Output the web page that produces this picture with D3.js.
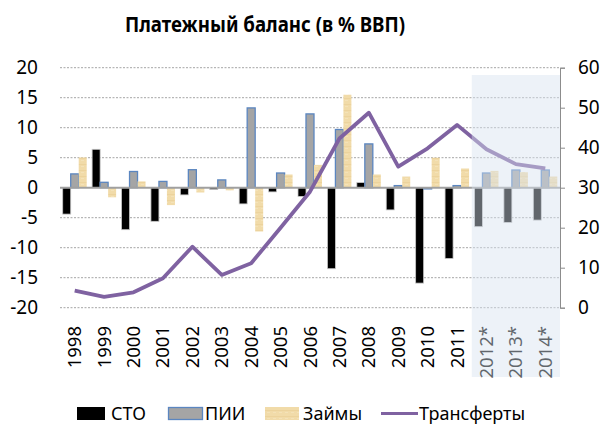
<!DOCTYPE html>
<html>
<head>
<meta charset="utf-8">
<script src="https://cdn.jsdelivr.net/npm/d3@7"></script>
<style>
  body { margin: 0; background: #fff; }
  svg { font-family: "Noto Sans", "Open Sans", sans-serif; }
</style>
</head>
<body>
<div id="chart"></div>
<script>
// categories and series
const years = ["1998", "1999", "2000", "2001", "2002", "2003", "2004", "2005", "2006",
  "2007", "2008", "2009", "2010", "2011", "2012*", "2013*", "2014*"];
const cto = [-4.4, 6.4, -7.0, -5.6, -1.2, -0.3, -2.7, -0.7, -1.45, -13.5, 0.85, -3.7, -15.9, -11.8, -6.5, -5.8, -5.4];
const pii = [2.3, 0.9, 2.7, 1.05, 3.0, 1.3, 13.3, 2.45, 12.3, 9.7, 7.3, 0.35, -0.2, 0.35, 2.45, 2.95, 2.95];
const loans = [5.05, -1.6, 1.05, -2.9, -0.8, -0.45, -7.3, 2.2, 3.8, 15.5, 2.2, 1.85, 5.0, 3.2, 2.8, 2.6, 1.85];
const transfers = [4.25, 2.7, 3.85, 7.35, 15.25, 8.2, 11.1, 20, 29, 42.3, 48.75, 35.25, 39.85, 45.7, 39.6, 35.9, 34.85];
const leftTicks = [-20, -15, -10, -5, 0, 5, 10, 15, 20];
const rightTicks = [0, 10, 20, 30, 40, 50, 60];
const forecastYears = ["2012*", "2013*", "2014*"];

const W = 604, H = 426;
const svg = d3.select("#chart").append("svg")
  .attr("width", W).attr("height", H);

// soft tan texture for the loans bars
const defs = svg.append("defs");
const pat = defs.append("pattern")
  .attr("id", "tan").attr("patternUnits", "userSpaceOnUse")
  .attr("width", 6).attr("height", 6);
pat.append("rect").attr("width", 6).attr("height", 6).attr("fill", "#f1dba9");
pat.append("rect").attr("y", 2).attr("width", 6).attr("height", 1).attr("fill", "#ecd39d");
pat.append("rect").attr("x", 3).attr("y", 4).attr("width", 3).attr("height", 1).attr("fill", "#f4e2b8");

const x = d3.scaleBand().domain(years).range([60, 560]);
const yL = d3.scaleLinear().domain([-20, 20]).range([307.7, 67.7]);
const yR = d3.scaleLinear().domain([0, 60]).range([307.7, 67.7]);

// title
svg.append("text")
  .attr("x", 265).attr("y", 32)
  .attr("text-anchor", "middle")
  .attr("textLength", 280).attr("lengthAdjust", "spacingAndGlyphs")
  .style("font-size", "21px").style("font-weight", "bold")
  .text("Платежный баланс (в % ВВП)");

// dotted gridlines
svg.append("g").selectAll("line")
  .data(leftTicks.filter(d => d !== 0))
  .enter().append("line")
  .attr("x1", 60).attr("x2", 560)
  .attr("y1", d => yL(d)).attr("y2", d => yL(d))
  .attr("stroke", "#a6a6a6").attr("stroke-width", 1)
  .attr("stroke-dasharray", "2,1.5");

// left axis labels (plain hyphen for negatives)
const axL = svg.append("g")
  .attr("transform", "translate(60,0)")
  .call(d3.axisLeft(yL).tickValues(leftTicks).tickFormat(d => String(d)).tickSize(0).tickPadding(22));
axL.select(".domain").remove();
axL.selectAll("text").style("font-size", "19px").attr("fill", "#000")
  .style("font-family", "\"Noto Sans\", sans-serif");

// right axis
const axR = svg.append("g")
  .attr("transform", "translate(560,0)")
  .call(d3.axisRight(yR).tickValues(rightTicks).tickSize(5).tickPadding(13));
axR.select(".domain").attr("stroke", "#8c8c8c");
axR.selectAll(".tick line").attr("stroke", "#8c8c8c");
axR.selectAll("text").style("font-size", "19px").attr("fill", "#000")
  .style("font-family", "\"Noto Sans\", sans-serif");

// bars
const bw = x.bandwidth() * 0.272;
const off = (x.bandwidth() - 3 * bw) / 2;
const series = [
  { name: "СТО", vals: cto, fill: "#000", stroke: "#c8c8c8", sw: 0.8 },
  { name: "ПИИ", vals: pii, fill: "#a5a5a5", stroke: "#5b86c0", sw: 1.3 },
  { name: "Займы", vals: loans, fill: "url(#tan)", stroke: "none", sw: 0 }
];
series.forEach((s, i) => {
  svg.append("g").selectAll("rect")
    .data(s.vals)
    .enter().append("rect")
    .attr("x", (d, j) => x(years[j]) + off + i * bw)
    .attr("y", d => yL(Math.max(0, d)))
    .attr("width", bw)
    .attr("height", d => Math.abs(yL(d) - yL(0)))
    .attr("fill", s.fill)
    .attr("stroke", s.stroke)
    .attr("stroke-width", s.sw);
});

// zero line
svg.append("line")
  .attr("x1", 60).attr("x2", 560)
  .attr("y1", yL(0)).attr("y2", yL(0))
  .attr("stroke", "#a0a0a0").attr("stroke-width", 2);

// transfers line on the right axis
const line = d3.line()
  .x((d, j) => x(years[j]) + x.bandwidth() / 2)
  .y(d => yR(d));
svg.append("path")
  .datum(transfers)
  .attr("d", line)
  .attr("fill", "none")
  .attr("stroke", "#7f62a1")
  .attr("stroke-width", 3.8)
  .attr("stroke-linejoin", "round");

// year labels
svg.append("g").selectAll("text")
  .data(years)
  .enter().append("text")
  .attr("transform", d => `translate(${x(d) + x.bandwidth() / 2 + 6.5},326) rotate(-90)`)
  .attr("text-anchor", "end")
  .style("font-size", "18.5px")
  .text(d => d);

// forecast shading drawn over everything
const fx0 = x(forecastYears[0]);
svg.append("rect")
  .attr("x", fx0).attr("y", 75)
  .attr("width", 560 - fx0).attr("height", 302)
  .attr("fill", "rgb(214,227,240)")
  .attr("opacity", 0.45);

// legend
const lg = svg.append("g").style("font-size", "18px");
lg.append("rect").attr("x", 77).attr("y", 407).attr("width", 28).attr("height", 13).attr("fill", "#000");
lg.append("text").attr("x", 111).attr("y", 420).text("СТО");
lg.append("rect").attr("x", 168.5).attr("y", 407.5).attr("width", 34).attr("height", 12)
  .attr("fill", "#a5a5a5").attr("stroke", "#5b86c0").attr("stroke-width", 1.3);
lg.append("text").attr("x", 205).attr("y", 420).text("ПИИ");
lg.append("rect").attr("x", 265).attr("y", 407).attr("width", 34).attr("height", 13).attr("fill", "url(#tan)");
lg.append("text").attr("x", 303).attr("y", 420).text("Займы");
lg.append("line").attr("x1", 381).attr("x2", 418).attr("y1", 413.5).attr("y2", 413.5)
  .attr("stroke", "#7f62a1").attr("stroke-width", 3);
lg.append("text").attr("x", 419).attr("y", 420).text("Трансферты");
</script>
</body>
</html>
